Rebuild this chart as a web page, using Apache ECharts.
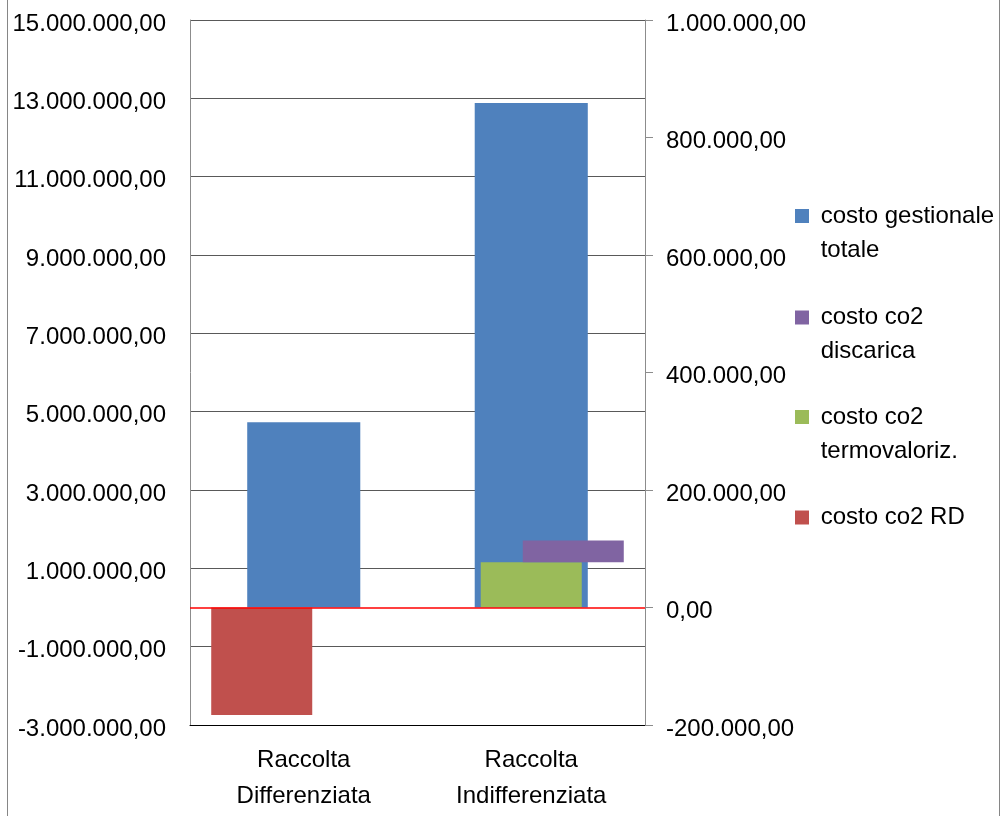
<!DOCTYPE html>
<html>
<head>
<meta charset="utf-8">
<script src="https://cdn.jsdelivr.net/npm/echarts@6/dist/echarts.min.js"></script>
<style>
html,body{margin:0;padding:0;background:#fff;}
#chart{width:1001px;height:816px;}
</style>
</head>
<body>
<div id="chart"></div>
<script>
// ---- data ----
const categories = ['Raccolta\nDifferenziata', 'Raccolta\nIndifferenziata'];
const costoGestionaleTotale = [4730000, 12880000];      // left axis
const costoCo2RD = [-183000, '-'];                      // right axis
const costoCo2Termovaloriz = ['-', 77000];              // right axis
const costoCo2Discarica = ['-', 37000];                 // right axis, stacked on termovaloriz.
const leftAxisRange = [-3000000, 15000000];
const leftLabelStep = 2000000;
const rightAxisRange = [-200000, 1000000];
const rightAxisStep = 200000;
const seriesNames = ['costo gestionale totale', 'costo co2 discarica', 'costo co2 termovaloriz.', 'costo co2 RD'];
const legendLabels = [['costo gestionale', 'totale'], ['costo co2', 'discarica'], ['costo co2', 'termovaloriz.'], ['costo co2 RD']];

// ---- helpers ----
function fmtIt(v) {
  const neg = v < 0;
  let s = Math.round(Math.abs(v)).toString();
  s = s.replace(/\B(?=(\d{3})+(?!\d))/g, '.');
  return (neg ? '-' : '') + s + ',00';
}
const FONT = 'Liberation Sans';
const LH = 34;
const colors = {
  'costo gestionale totale': '#4F81BD',
  'costo co2 RD': '#C0504D',
  'costo co2 termovaloriz.': '#9BBB59',
  'costo co2 discarica': '#8064A2'
};
const legendIconCenters = [216, 317.5, 417, 517.5];

const legends = seriesNames.map((name, i) => {
  const lines = legendLabels[i];
  const twoLines = lines.length > 1;
  const text = twoLines ? '\n' + lines.map(l => ' ' + l).join('\n') : ' ' + lines[0];
  return {
    orient: 'vertical',
    left: 795,
    top: twoLines ? legendIconCenters[i] - 1.5 * LH : legendIconCenters[i] - 0.5 * LH,
    padding: 0,
    icon: 'rect',
    itemWidth: 14,
    itemHeight: 14,
    selectedMode: false,
    formatter: () => text,
    textStyle: {fontFamily: FONT, fontSize: 24, color: '#000', lineHeight: LH},
    data: [name]
  };
});

const axisLabelRich = {v: {fontFamily: FONT, fontSize: 24, color: '#000', padding: [8, 0, 0, 0]}};

const chart = echarts.init(document.getElementById('chart'), null, {renderer: 'canvas'});
chart.setOption({
  animation: false,
  backgroundColor: '#fff',
  graphic: [{
    type: 'rect',
    shape: {x: 7.5, y: -10, width: 992, height: 840},
    style: {fill: 'none', stroke: '#868686', lineWidth: 1},
    silent: true, z: -1
  }],
  legend: legends,
  grid: {left: 190, right: 356, top: 20, bottom: 91, containLabel: false},
  xAxis: [{
    type: 'category',
    data: categories,
    position: 'bottom',
    axisLine: {show: true, onZero: false, lineStyle: {color: '#000', width: 1}},
    axisTick: {show: false},
    axisLabel: {fontFamily: FONT, fontSize: 24, color: '#000', lineHeight: 36, margin: 17, interval: 0},
    splitLine: {show: false}
  }, {
    type: 'category',
    data: categories,
    position: 'top',
    axisLine: {show: false},
    axisTick: {show: false},
    axisLabel: {show: false},
    splitLine: {show: false}
  }],
  yAxis: [{
    type: 'value',
    position: 'left',
    min: leftAxisRange[0],
    max: leftAxisRange[1],
    interval: 1000000,
    axisLine: {show: true, lineStyle: {color: '#8c8c8c', width: 1}},
    axisTick: {show: false},
    axisLabel: {
      margin: 24,
      rich: axisLabelRich,
      formatter: v => (Math.round((v - leftAxisRange[0]) / 1000000) % (leftLabelStep / 1000000) === 0) ? '{v|' + fmtIt(v) + '}' : ''
    },
    splitLine: {show: true, lineStyle: {color: ['#595959', 'rgba(255,255,255,0)'], width: 1}}
  }, {
    type: 'value',
    position: 'right',
    min: rightAxisRange[0],
    max: rightAxisRange[1],
    interval: rightAxisStep,
    axisLine: {show: true, lineStyle: {color: '#8c8c8c', width: 1}},
    axisTick: {show: true, inside: false, length: 8, lineStyle: {color: '#8c8c8c'}},
    axisLabel: {margin: 21, rich: axisLabelRich, formatter: v => '{v|' + fmtIt(v) + '}'},
    splitLine: {show: false}
  }],
  series: [{
    name: 'costo gestionale totale',
    type: 'bar',
    xAxisIndex: 0, yAxisIndex: 0,
    barWidth: '49.7%',
    itemStyle: {color: colors['costo gestionale totale']},
    data: costoGestionaleTotale
  }, {
    name: 'costo co2 RD',
    type: 'bar',
    xAxisIndex: 1, yAxisIndex: 1,
    barWidth: '44.4%', barGap: '-58.4%',
    itemStyle: {color: colors['costo co2 RD']},
    data: costoCo2RD
  }, {
    name: 'costo co2 termovaloriz.',
    type: 'bar',
    xAxisIndex: 1, yAxisIndex: 1,
    barWidth: '44.4%', barGap: '-58.4%',
    itemStyle: {color: colors['costo co2 termovaloriz.']},
    data: costoCo2Termovaloriz
  }, {
    name: '_base',
    type: 'bar',
    xAxisIndex: 1, yAxisIndex: 1,
    stack: 'discarica',
    barWidth: '44.4%', barGap: '-58.4%',
    silent: true,
    itemStyle: {color: 'rgba(0,0,0,0)'},
    data: costoCo2Termovaloriz
  }, {
    name: 'costo co2 discarica',
    type: 'bar',
    xAxisIndex: 1, yAxisIndex: 1,
    stack: 'discarica',
    barWidth: '44.4%', barGap: '-58.4%',
    itemStyle: {color: colors['costo co2 discarica']},
    data: costoCo2Discarica
  }, {
    name: '_zero',
    type: 'line',
    xAxisIndex: 1, yAxisIndex: 1,
    data: [],
    silent: true,
    z: 5,
    markLine: {
      silent: true,
      symbol: ['none', 'none'],
      label: {show: false},
      emphasis: {disabled: true},
      lineStyle: {color: '#FF0000', width: 1.5, type: 'solid', opacity: 1},
      data: [{yAxis: 0}]
    }
  }]
});
</script>
</body>
</html>
